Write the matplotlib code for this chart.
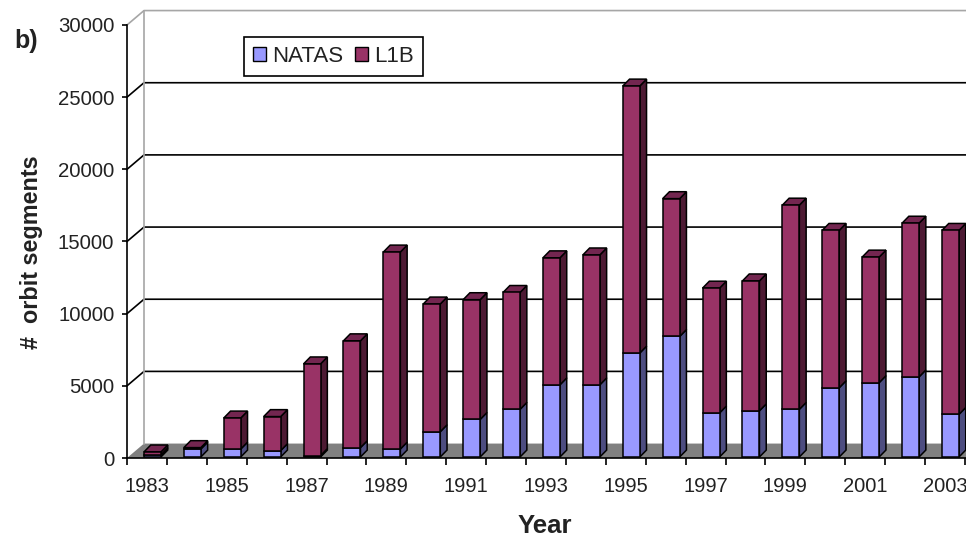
import matplotlib
matplotlib.use('Agg')
import matplotlib.pyplot as plt
from matplotlib.patches import Polygon, Rectangle

plt.rcParams['font.family'] = ['Liberation Sans', 'DejaVu Sans']

years = list(range(1983, 2004))
natas = [150, 550, 550, 440, 100, 650, 550, 1750, 2600, 3300, 5000,
         5000, 7200, 8350, 3050, 3200, 3300, 4800, 5150, 5550, 2950]
total = [350, 650, 2700, 2800, 6450, 8050, 14200, 10600, 10900, 11400, 13800,
         14000, 25700, 17900, 11700, 12200, 17450, 15700, 13850, 16200, 15700]
l1b = [t - n for t, n in zip(total, natas)]
yticks = [0, 5000, 10000, 15000, 20000, 25000, 30000]

c_natas = '#9999ff'
c_l1b = '#993366'
c_natas_side = '#4d4d80'
c_l1b_side = '#4d1a33'
c_l1b_top = '#732650'

W, H = 966, 539
fig = plt.figure(figsize=(W / 100, H / 100), dpi=100)
# axes covers the front plane of the fake 3d box
ax = fig.add_axes([127 / W, 1 - 458 / H, (W - 127) / W, (458 - 25) / H])
ax.set_xlim(0, (W - 127) / 39.9)
ax.set_ylim(0, 30000)
ax.patch.set_alpha(0)

# depth of the box and of the bars, in data units
wall_dx, wall_dy = 0.426, 1000
bar_dx, bar_dy = 0.17, 480
xmax = ax.get_xlim()[1]

ax.add_patch(Polygon([(0, 0), (wall_dx, wall_dy), (xmax + 1, wall_dy), (xmax + 1, 0)],
                     fc='#808080', ec='none', zorder=1))
for v in yticks[1:]:
    col = '#a6a6a6' if v == 30000 else 'black'
    ax.plot([0, wall_dx, xmax + 1], [v, v + wall_dy, v + wall_dy], color=col, lw=1.2,
            clip_on=False, zorder=1.5)
ax.plot([wall_dx, wall_dx], [wall_dy, 30000 + wall_dy], color='#a6a6a6', lw=1.2,
        clip_on=False, zorder=1.5)

# bars: front faces from ax.bar, sides and tops as polygons
bw = 0.426
lift = 70
xs = [i + 0.638 for i in range(len(years))]
for x, n, t in zip(xs, natas, total):
    xr = x + bw / 2
    xl = x - bw / 2
    y0, y1, y2 = lift, lift + n, lift + t
    ax.add_patch(Polygon([(xr, y0), (xr + bar_dx, y0 + bar_dy), (xr + bar_dx, y1 + bar_dy), (xr, y1)],
                         fc=c_natas_side, ec='black', lw=1.1, zorder=2, clip_on=True))
    ax.add_patch(Polygon([(xr, y1), (xr + bar_dx, y1 + bar_dy), (xr + bar_dx, y2 + bar_dy), (xr, y2)],
                         fc=c_l1b_side, ec='black', lw=1.1, zorder=2, clip_on=True))
    ax.add_patch(Polygon([(xl, y2), (xl + bar_dx, y2 + bar_dy), (xr + bar_dx, y2 + bar_dy), (xr, y2)],
                         fc=c_l1b_top, ec='black', lw=1.1, zorder=2, clip_on=False))
ax.bar(xs, natas, width=bw, bottom=lift, color=c_natas, edgecolor='black', lw=1.1, zorder=3)
ax.bar(xs, l1b, width=bw, bottom=[lift + n for n in natas], color=c_l1b, edgecolor='black',
       lw=1.1, zorder=3)

for s in ['top', 'right']:
    ax.spines[s].set_visible(False)
for s in ['left', 'bottom']:
    ax.spines[s].set_linewidth(1.2)
    ax.spines[s].set_zorder(5)

ax.set_yticks(yticks)
ax.set_xticks(range(22))
ax.set_xticklabels([])
ax.set_xticks([i + 0.5 for i in range(0, 21, 2)], minor=True)
ax.set_xticklabels([str(y) for y in years[::2]], minor=True)
ax.tick_params(axis='x', which='minor', length=0, pad=14, labelsize=14.5, colors='#222222')
ax.tick_params(axis='x', which='major', length=5, width=1.2)
ax.tick_params(axis='y', length=3.6, width=1.2, pad=5.5, labelsize=14.7, labelcolor='#222222')

fig.text(545 / W, 1 - 526 / H, 'Year', fontsize=18.5, fontweight='bold', ha='center', va='center',
         color='#222222')
fig.text(32 / W, 1 - 252 / H, '#  orbit segments', fontsize=16.8, fontweight='bold', rotation=90,
         ha='center', va='center', color='#222222')
fig.text(14 / W, 1 - 41 / H, 'b)', fontsize=18, fontweight='bold', ha='left', va='center',
         color='#222222')

handles = [Rectangle((0, 0), 1, 1, fc=c_natas, ec='black', lw=1),
           Rectangle((0, 0), 1, 1, fc=c_l1b, ec='black', lw=1)]
leg = fig.legend(handles, ['NATAS', 'L1B'], ncol=2, loc='upper left',
                 bbox_to_anchor=(244 / W, 1 - 37 / H), bbox_transform=fig.transFigure,
                 fontsize=16, fancybox=False, framealpha=1, edgecolor='black',
                 handlelength=0.58, handleheight=0.58, handletextpad=0.28,
                 columnspacing=0.55, borderpad=0.4, borderaxespad=0, labelcolor='#222222')
leg.get_frame().set_linewidth(1.2)

fig.savefig('out.png', dpi=100, facecolor='white')
